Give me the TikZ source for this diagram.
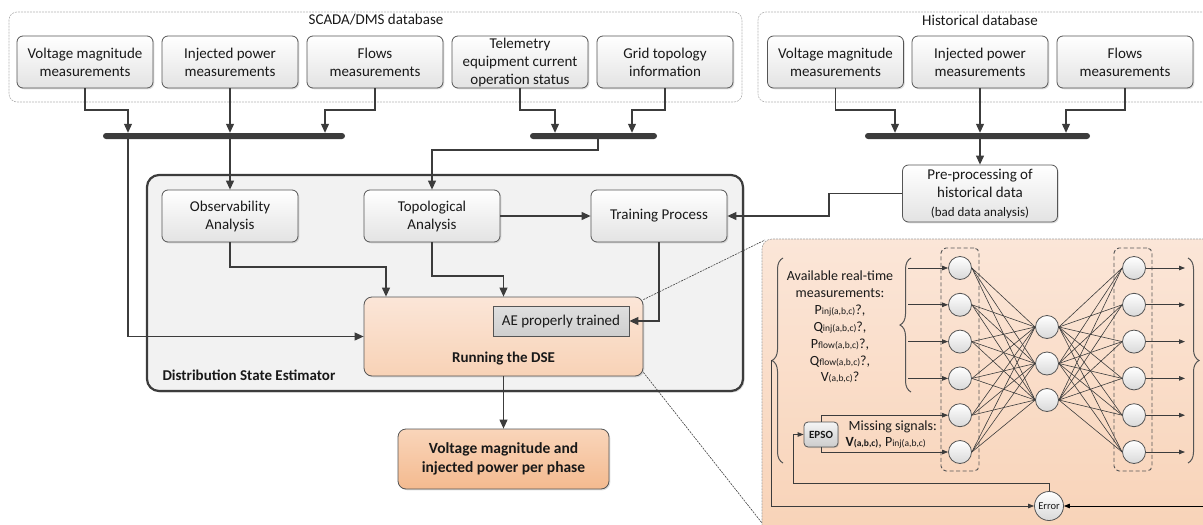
\documentclass[tikz,border=0pt]{standalone}
\usepackage{fontspec}
\setmainfont{Carlito}
\usetikzlibrary{arrows.meta,shadows,decorations.pathreplacing,calc}
\definecolor{ln}{HTML}{3C3C3C}
\definecolor{bd}{HTML}{555555}
\definecolor{peachA}{HTML}{FBE6D8}
\definecolor{peachB}{HTML}{F8D2B6}
\definecolor{orA}{HTML}{F9D5BA}
\definecolor{orB}{HTML}{F4BA8F}
\newcommand\fs[2]{\fontsize{#1}{#2}\selectfont}
\newcommand\sbt[1]{{\fontsize{9.5}{10}\selectfont #1}}
\begin{document}
\begin{tikzpicture}[x=1pt,y=-1pt,
  every node/.style={text=black!90},
  box/.style={draw=bd, line width=0.8pt, rounded corners=6pt, top color=white, bottom color=gray!22,
    minimum width=136pt, minimum height=52pt, inner sep=1pt, align=center, font=\fs{15}{18},
    drop shadow={shadow xshift=1.3pt, shadow yshift=-1.3pt, opacity=0.25}},
  busbar/.style={fill=ln, rounded corners=3pt, minimum height=6pt, inner sep=0pt},
  arr/.style={draw=ln, line width=1.1pt, -{Triangle[length=9pt,width=8pt]}},
  sarr/.style={draw=ln, line width=0.8pt, -{Triangle[length=6pt,width=4.5pt]}},
  db/.style={draw=gray!60, dash pattern=on 2pt off 1pt, line width=0.6pt, rounded corners=8pt},
  neuron/.style={circle, minimum size=23pt, inner sep=0pt, draw=bd, line width=0.8pt, top color=white, bottom color=gray!30},
  layerbox/.style={draw=bd, dash pattern=on 4pt off 2.5pt, rounded corners=5pt, line width=0.9pt, minimum width=38pt, minimum height=223pt},
  nnl/.style={draw=ln, line width=0.6pt},
  brc/.style={draw=bd, line width=1pt, decorate, decoration={brace, amplitude=11pt}},
  zoomln/.style={draw=black!75, dash pattern=on 2pt off 1pt, line width=0.6pt}
]
\useasboundingbox (0,0) rectangle (1203,525);

% ---------- databases ----------
\node[db, minimum width=733pt, minimum height=90pt] (scada) at (375.5,57) {};
\node[font=\fs{15}{18}] (scadalbl) at (376,20) {SCADA/DMS database};
\node[db, minimum width=470pt, minimum height=90pt] (hist) at (993,57) {};
\node[font=\fs{15}{18}] (histlbl) at (980,20) {Historical database};

\node[box] (s1) at (85,62) {Voltage magnitude\\measurements};
\node[box] (s2) at (230,62) {Injected power\\measurements};
\node[box] (s3) at (375,62) {Flows\\measurements};
\node[box] (s4) at (520,62) {Telemetry\\equipment current\\operation status};
\node[box] (s5) at (665,62) {Grid topology\\information};

\node[box] (h1) at (835.5,62) {Voltage magnitude\\measurements};
\node[box] (h2) at (980,62) {Injected power\\measurements};
\node[box] (h3) at (1125,62) {Flows\\measurements};

% ---------- bus bars ----------
\node[busbar, minimum width=242pt] (bar1) at (224,136) {};
\node[busbar, minimum width=127pt] (bar2) at (593.5,136) {};
\node[busbar, minimum width=225pt] (bar3) at (977.5,136) {};

\draw[arr] (s1.south) |- (128,110) -- (128,0 |- bar1.north);
\draw[arr] (s2.south) -- (230,0 |- bar1.north);
\draw[arr] (s3.south) |- (325,110) -- (325,0 |- bar1.north);
\draw[arr] (s4.south) |- (555,110) -- (555,0 |- bar2.north);
\draw[arr] (s5.south) |- (632,110) -- (632,0 |- bar2.north);
\draw[arr] (h1.south) |- (895,110) -- (895,0 |- bar3.north);
\draw[arr] (h2.south) -- (980,0 |- bar3.north);
\draw[arr] (h3.south) |- (1066,110) -- (1066,0 |- bar3.north);

% ---------- pre-processing ----------
\node[box, minimum width=155pt, minimum height=57pt, font=\fs{15}{18.5}] (pre) at (980,193.5)
  {Pre-processing of\\historical data\\{\fs{13}{15}(bad data analysis)}};
\draw[arr] (980,0 |- bar3.south) -- (pre.north);

% ---------- DSE frame ----------
\node[draw=ln, line width=2.2pt, fill=black!5, rounded corners=12pt, minimum width=596pt, minimum height=216pt,
  drop shadow={shadow xshift=1.5pt, shadow yshift=-1.5pt, opacity=0.3}] (dse) at (445,283) {};
\node[anchor=west, font=\bfseries\fs{15}{18}] (dselbl) at (159,375) {Distribution State Estimator};

\node[box] (obs) at (230,216) {Observability\\Analysis};
\node[box] (topo) at (432,216) {Topological\\Analysis};
\node[box] (train) at (659,216) {Training Process};

\node[draw=bd, line width=0.8pt, rounded corners=8pt, top color=peachA, bottom color=peachB,
  minimum width=279pt, minimum height=79pt,
  drop shadow={shadow xshift=1.3pt, shadow yshift=-1.3pt, opacity=0.25}] (run) at (503.5,336.5) {};
\node[font=\bfseries\fs{15}{18}] (runlbl) at (503.5,359) {Running the DSE};
\node[draw=bd, line width=0.8pt, top color=gray!25, bottom color=gray!38, minimum width=136pt, minimum height=30pt,
  font=\fs{15}{18}, drop shadow={shadow xshift=1.2pt, shadow yshift=-1.2pt, opacity=0.25}] (ae) at (561,321) {AE properly trained};

\node[draw=bd, line width=0.8pt, rounded corners=8pt, top color=orA, bottom color=orB,
  minimum width=211pt, minimum height=60pt, align=center, font=\bfseries\fs{15.5}{19},
  drop shadow={shadow xshift=1.3pt, shadow yshift=-1.3pt, opacity=0.25}] (out) at (503.5,459)
  {Voltage magnitude and\\injected power per phase};

% ---------- connectors ----------
\draw[arr] (230,0 |- bar1.south) -- (obs.north);
\draw[arr] (128,0 |- bar1.south) |- (run.west);
\draw[arr] (598,0 |- bar2.south) -- (598,150) -| (topo.north);
\draw[arr] (obs.south) -- (230,267) -| (386,0 |- run.north);
\draw[arr] (topo.south) -- (432,276) -| (run.north);
\draw[arr] (topo.east) -- (train.west);
\draw[arr] (pre.west) -| (829,216) -- (train.east);
\draw[arr] (train.south) |- (ae.east);
\draw[arr] (run.south) -- (out.north);

% ---------- neural network panel ----------
\node[draw=gray!75, dash pattern=on 2pt off 1pt, line width=0.6pt, rounded corners=10pt,
  top color=peachA, bottom color=peachB, minimum width=470pt, minimum height=310pt] (nnp) at (997,394) {};

\coordinate (zc1) at (765,240);
\coordinate (zc2) at (762,523);
\draw[zoomln] ($(run.north east)+(0,3)$) -- (zc1);
\draw[zoomln] ($(run.south east)+(0,-4)$) -- (zc2);

\node[layerbox] (inl) at (960,359.5) {};
\node[layerbox] (outl) at (1133,359.5) {};

\foreach \k [evaluate=\k as \yy using {268+36.8*(\k-1)}] in {1,...,6} {
  \node[neuron] (i\k) at (960,\yy) {};
  \node[neuron] (o\k) at (1134,\yy) {};
}
\foreach \j/\yy in {1/327,2/363.5,3/400} {
  \node[neuron] (m\j) at (1047,\yy) {};
}
\foreach \k in {1,...,6} {
  \foreach \j in {1,2,3} {
    \draw[nnl] (i\k.east) -- (m\j.west);
    \draw[nnl] (m\j.east) -- (o\k.west);
  }
}
\foreach \k in {1,...,4} {
  \draw[sarr] (908,0 |- i\k.west) -- (i\k.west);
}
\foreach \k in {1,...,6} {
  \draw[sarr] (o\k.east) -- (1185,0 |- o\k.east);
}

% braces
\draw[brc] (783,463) -- (783,258);
\draw[brc] (911,392) -- (911,258);
\draw[brc] (1188,258) -- (1188,463);

\node[align=center, font=\fs{14}{16.9}] (avail) at (840,327)
  {Available real-time\\measurements:\\P\sbt{inj(a,b,c)}?,\\Q\sbt{inj(a,b,c)}?,\\P\sbt{flow(a,b,c)}?,\\Q\sbt{flow(a,b,c)}?,\\V\sbt{(a,b,c)}?};

\node[draw=bd, line width=0.8pt, rounded corners=4pt, top color=gray!8, bottom color=gray!40,
  minimum width=34pt, minimum height=25pt, inner sep=0pt, font=\bfseries\fs{11}{13},
  drop shadow={shadow xshift=1pt, shadow yshift=-1pt, opacity=0.25}] (epso) at (821,434.5) {EPSO};
\node[anchor=west, align=left, font=\fs{14}{16}] (miss) at (842,435)
  {\ Missing signals:\\{\bfseries V\sbt{(a,b,c)}}, P\sbt{inj(a,b,c)}};

\node[neuron, minimum size=29pt, font=\fs{10.5}{12}] (err) at (1049,506) {Error};

\draw[sarr] (epso.north) |- (i5.west);
\draw[sarr] (epso.south) |- (i6.west);
\draw[sarr] (err.north) |- (793,483) |- (epso.west);
\draw[sarr] (771,360) |- (err.west);
\coordinate (erin) at (1205,506);
\draw[draw=black, line width=0.9pt, -{Triangle[length=6pt,width=4.5pt]}] (erin) -- (err.east);
\end{tikzpicture}
\end{document}
